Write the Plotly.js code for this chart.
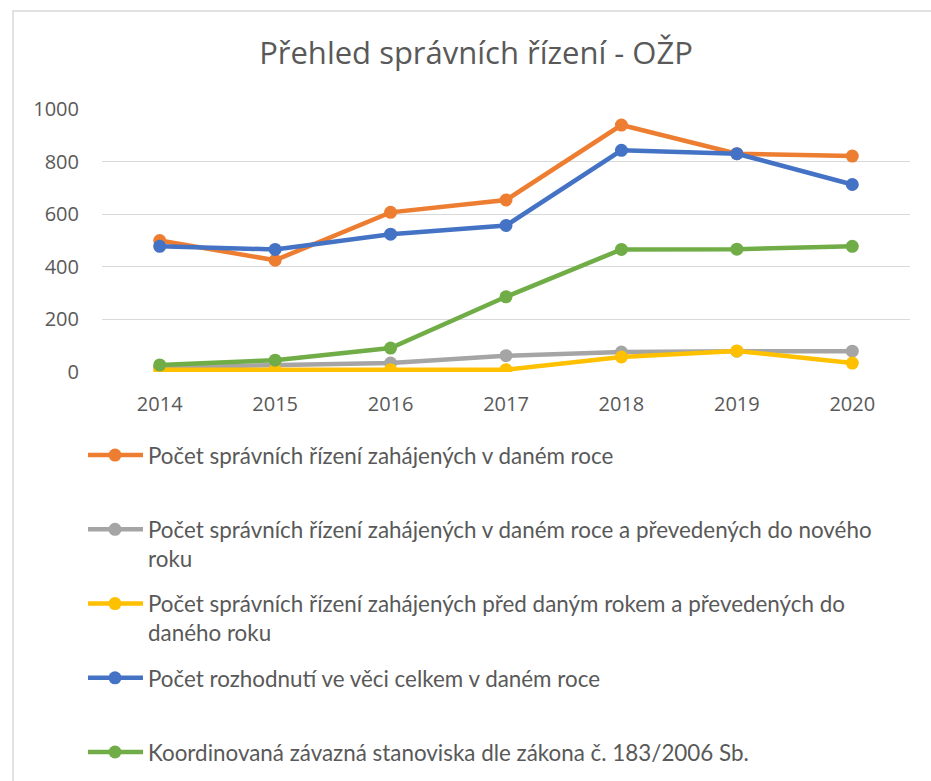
<!DOCTYPE html>
<html>
<head>
<meta charset="utf-8">
<script src="https://cdn.plot.ly/plotly-3.0.1.min.js"></script>
<style>html,body{margin:0;padding:0;background:#fff;}#chart{width:931px;height:781px;}</style>
</head>
<body>
<div id="chart"></div>
<script>
const years = ["2014", "2015", "2016", "2017", "2018", "2019", "2020"];
const zahajenych = [500, 425, 607, 654, 939, 830, 821];
const prevedenychDoNoveho = [18, 28, 34, 62, 76, 79, 79];
const predDanymRokem = [9, 8, 9, 9, 57, 80, 34];
const rozhodnuti = [478, 466, 524, 557, 843, 830, 713];
const koordinovana = [27, 45, 91, 286, 466, 467, 478];

const seriesNames = [
  "Počet správních řízení zahájených v daném roce",
  "Počet správních řízení zahájených v daném roce a převedených do nového<br>roku",
  "Počet správních řízení zahájených před daným rokem a převedených do<br>daného roku",
  "Počet rozhodnutí ve věci celkem v daném roce",
  "Koordinovaná závazná stanoviska dle zákona č. 183/2006 Sb."
];
const seriesValues = [zahajenych, prevedenychDoNoveho, predDanymRokem, rozhodnuti, koordinovana];
const colors = ["#ED7D31", "#A5A5A5", "#FFC000", "#4472C4", "#70AD47"];

const traces = seriesValues.map((vals, i) => {
  let nm = seriesNames[i];
  if (nm.indexOf("<br>") < 0) nm = nm + "<br> ";
  return {
    x: years, y: vals, type: "scatter", mode: "lines+markers", name: nm,
    legendgroup: "g" + i,
    line: {color: colors[i], width: 4.5},
    marker: {color: colors[i], size: 13},
    hoverinfo: "none"
  };
});

const layout = {
  width: 931, height: 781,
  paper_bgcolor: "#ffffff", plot_bgcolor: "#ffffff",
  margin: {l: 102, r: 21, t: 109, b: 409, autoexpand: false},
  title: {
    text: "Přehled správních řízení - OŽP",
    font: {family: "Open Sans", size: 31, color: "#595959"},
    x: 476 / 931, xanchor: "center", xref: "container",
    y: 1 - 53 / 781, yanchor: "middle", yref: "container"
  },
  xaxis: {
    type: "category", range: [-0.5, 6.5],
    showgrid: false, zeroline: false, showline: false, ticks: "",
    tickfont: {family: "Open Sans", size: 20, color: "#595959"},
    ticklabelstandoff: 18, tickangle: 0,
    fixedrange: true
  },
  yaxis: {
    range: [0, 1000], tickvals: [0, 200, 400, 600, 800, 1000],
    showgrid: true, gridcolor: "#D9D9D9", gridwidth: 1.3,
    zeroline: false, showline: false, ticks: "",
    tickfont: {family: "Open Sans", size: 20, color: "#595959"},
    ticklabelstandoff: 22,
    fixedrange: true
  },
  showlegend: true,
  legend: {
    orientation: "v", xref: "container", yref: "container",
    x: 83 / 931, xanchor: "left", y: 1 - 434 / 781, yanchor: "top",
    valign: "top", traceorder: "grouped", tracegroupgap: 13,
    itemwidth: 55,
    font: {family: "Lato", size: 22.4, color: "#595959"},
    bgcolor: "rgba(0,0,0,0)", itemclick: false, itemdoubleclick: false
  },
  shapes: [{
    type: "rect", xref: "paper", yref: "paper",
    x0: (13 - 102) / 808, x1: 1.2, y0: -2, y1: (372 - 11) / 263,
    line: {color: "#D9D9D9", width: 1.5}, fillcolor: "rgba(0,0,0,0)", layer: "below"
  }]
};

Plotly.newPlot("chart", traces, layout, {displayModeBar: false, staticPlot: true}).then(gd => {
  // lengthen legend line samples to match the original's longer keys
  gd.querySelectorAll(".legend .legendlines path").forEach(p => p.setAttribute("d", "M5,0h55"));
  gd.querySelectorAll(".legend .legendpoints path").forEach(p => p.setAttribute("transform", "translate(32,0)"));
});
</script>
</body>
</html>
